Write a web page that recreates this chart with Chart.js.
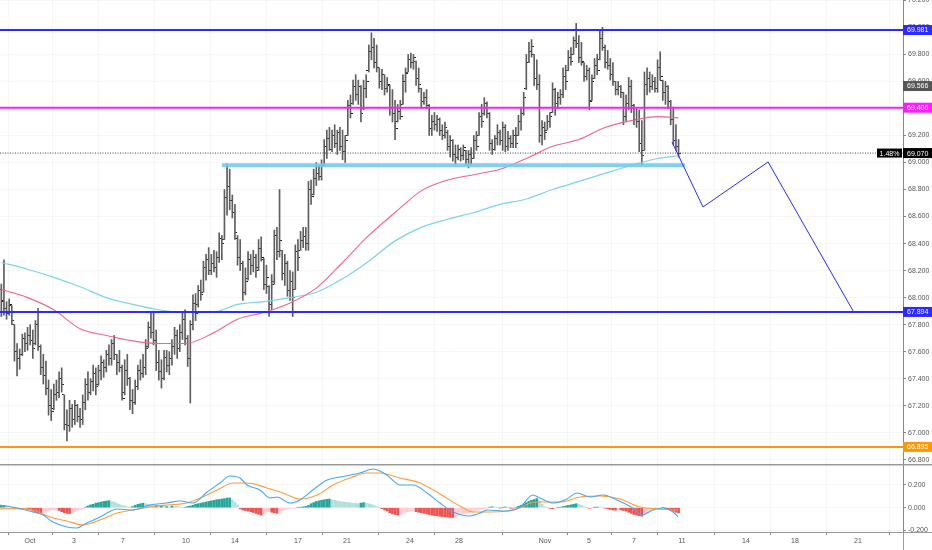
<!DOCTYPE html>
<html>
<head>
<meta charset="utf-8">
<title>Price chart with MACD</title>
<script src="https://cdn.jsdelivr.net/npm/chart.js@4.4.1/dist/chart.umd.min.js"></script>
<style>
html,body{margin:0;padding:0;background:#ffffff;overflow:hidden;}
#wrap{position:relative;width:932px;height:550px;}
</style>
</head>
<body>
<div id="wrap"><canvas id="chart" width="932" height="550"></canvas></div>
<script>
// ---------------- DATA ----------------
const barOpen = [
68.06,67.97,67.92,67.88,67.94,67.80,67.60,67.55,67.58,67.70,
67.66,67.72,67.68,67.66,67.80,67.64,67.48,67.42,67.33,67.20,
67.18,67.28,67.30,67.40,67.28,67.06,67.05,67.18,67.10,67.20,
67.12,67.10,67.22,67.36,67.30,67.38,67.44,67.36,67.46,67.52,
67.48,67.58,67.55,67.66,67.58,67.52,67.48,67.30,67.46,67.40,
67.24,67.22,67.34,67.46,67.44,67.48,67.64,67.78,67.74,67.68,
67.52,67.45,67.40,67.56,67.50,67.55,67.64,67.72,67.62,67.74,
67.84,67.70,67.55,67.80,67.96,67.95,68.05,68.04,68.22,68.28,
68.20,68.25,68.22,68.30,68.44,68.43,68.74,68.82,68.72,68.63,
68.44,68.30,68.25,68.04,68.14,68.28,68.24,68.30,68.22,68.36,
68.28,68.10,68.08,67.95,68.12,68.46,68.34,68.35,68.18,68.25,
68.05,68.12,68.06,68.34,68.35,68.42,68.45,68.40,68.80,68.76,
68.88,68.92,68.90,68.98,69.12,69.18,69.10,69.20,69.14,69.22,
69.12,69.08,69.20,69.42,69.44,69.56,69.50,69.56,69.40,69.55,
69.68,69.82,69.85,69.74,69.70,69.60,69.65,69.55,69.57,69.40,
69.36,69.30,69.38,69.43,69.60,69.67,69.76,69.74,69.75,69.62,
69.55,69.45,69.48,69.42,69.25,69.30,69.28,69.32,69.24,69.20,
69.22,69.12,69.16,69.06,69.04,69.10,69.05,69.09,69.02,69.06,
69.03,69.16,69.20,69.34,69.36,69.44,69.36,69.14,69.10,69.18,
69.22,69.16,69.26,69.12,69.18,69.14,69.20,69.20,69.30,69.36,
69.55,69.74,69.82,69.80,69.62,69.58,69.20,69.26,69.24,69.30,
69.37,69.54,69.44,69.48,69.50,69.64,69.68,69.78,69.80,69.90,
69.88,69.78,69.74,69.64,69.68,69.46,69.62,69.72,69.76,69.92,
69.85,69.74,69.72,69.65,69.60,69.54,69.56,69.52,69.34,69.44,
69.56,69.42,69.32,69.30,69.14,69.09,69.58,69.62,69.56,69.60,
69.55,69.70,69.61,69.52,69.56,69.45,69.32,69.16,69.12];
const barHigh = [
68.10,68.28,67.97,67.99,67.94,67.80,67.66,67.62,67.73,67.74,
67.78,67.80,67.76,67.83,67.92,67.65,67.58,67.53,67.39,67.32,
67.36,67.39,67.45,67.48,67.28,67.17,67.24,67.21,67.24,67.21,
67.18,67.28,67.40,67.45,67.40,67.50,67.48,67.50,67.57,67.54,
67.61,67.65,67.69,67.72,67.58,67.61,67.50,67.54,67.58,67.41,
67.32,67.39,67.50,67.54,67.58,67.69,67.82,67.89,67.90,67.76,
67.61,67.54,67.61,67.61,67.60,67.69,67.78,67.76,67.80,67.89,
67.91,67.72,67.83,68.02,68.03,68.09,68.13,68.27,68.32,68.37,
68.32,68.35,68.34,68.48,68.46,68.80,68.99,68.95,68.76,68.69,
68.46,68.43,68.27,68.22,68.34,68.32,68.35,68.32,68.43,68.45,
68.29,68.24,68.09,68.17,68.50,68.52,68.80,68.35,68.32,68.27,
68.20,68.19,68.39,68.43,68.49,68.52,68.52,68.86,68.87,68.95,
69.00,68.98,69.02,69.17,69.24,69.26,69.24,69.28,69.24,69.26,
69.24,69.20,69.46,69.50,69.61,69.65,69.61,69.57,69.61,69.65,
69.87,69.96,69.92,69.87,69.70,69.69,69.65,69.63,69.57,69.54,
69.46,69.43,69.46,69.65,69.70,69.80,69.81,69.80,69.75,69.70,
69.55,69.52,69.54,69.43,69.35,69.37,69.35,69.33,69.28,69.30,
69.24,69.20,69.17,69.13,69.13,69.11,69.13,69.09,69.09,69.11,
69.20,69.23,69.37,69.43,69.48,69.45,69.37,69.17,69.20,69.28,
69.24,69.30,69.28,69.23,69.20,69.24,69.26,69.35,69.40,69.52,
69.80,69.89,69.91,69.80,69.76,69.65,69.31,69.30,69.35,69.37,
69.59,69.55,69.52,69.54,69.70,69.72,69.83,69.85,69.93,70.03,
69.94,69.89,69.74,69.72,69.70,69.65,69.77,69.80,69.98,70.00,
69.87,69.83,69.77,69.74,69.60,69.60,69.57,69.52,69.50,69.63,
69.61,69.43,69.40,69.39,69.31,69.67,69.70,69.67,69.65,69.63,
69.76,69.82,69.61,69.60,69.57,69.46,69.41,69.28,69.17];
const barLow = [
67.86,67.87,67.84,67.87,67.80,67.53,67.42,67.47,67.57,67.60,
67.61,67.65,67.55,67.65,67.61,67.43,67.36,67.28,67.13,67.09,
67.17,67.24,67.26,67.30,67.02,66.94,67.01,67.04,67.06,67.08,
67.04,67.06,67.17,67.24,67.28,67.31,67.28,67.35,67.39,67.41,
67.45,67.50,67.50,67.54,67.43,67.45,67.24,67.28,67.35,67.17,
67.14,67.21,67.32,67.39,67.41,67.43,67.63,67.70,67.65,67.46,
67.39,67.33,67.39,67.45,67.43,67.50,67.58,67.55,67.60,67.69,
67.65,67.49,67.22,67.76,67.83,67.93,67.98,68.04,68.13,68.17,
68.17,68.19,68.15,68.26,68.28,68.43,68.61,68.65,68.59,68.43,
68.24,68.20,67.98,68.02,68.13,68.17,68.19,68.15,68.20,68.27,
68.06,68.03,67.86,67.91,68.10,68.28,68.30,68.13,68.09,68.01,
67.98,67.86,68.06,68.20,68.35,68.37,68.35,68.35,68.69,68.76,
68.83,68.87,68.87,68.98,69.03,69.09,69.08,69.11,69.06,69.09,
69.02,69.00,69.20,69.33,69.43,69.46,69.43,69.30,69.39,69.48,
69.67,69.76,69.70,69.67,69.55,69.54,69.50,69.52,69.35,69.30,
69.17,69.30,69.32,69.43,69.52,69.67,69.70,69.69,69.57,69.52,
69.40,69.43,69.40,69.20,69.20,69.24,69.23,69.20,69.17,69.18,
69.09,69.04,69.01,68.98,69.02,69.01,69.02,68.98,68.96,68.98,
69.03,69.09,69.20,69.26,69.35,69.33,69.09,69.06,69.09,69.13,
69.13,69.09,69.08,69.09,69.11,69.11,69.11,69.20,69.24,69.35,
69.54,69.74,69.78,69.57,69.54,69.15,69.13,69.17,69.24,69.26,
69.37,69.35,69.40,69.43,69.48,69.54,69.68,69.72,69.80,69.85,
69.74,69.72,69.60,69.61,69.39,69.46,69.62,69.65,69.76,69.83,
69.70,69.69,69.61,69.57,69.50,69.50,69.48,69.28,69.31,69.39,
69.37,69.28,69.26,69.08,68.98,69.09,69.50,69.52,69.54,69.52,
69.52,69.61,69.46,69.43,69.40,69.28,69.13,69.09,69.04];
const barClose = [
67.98,67.92,67.88,67.95,67.83,67.60,67.55,67.58,67.70,67.66,
67.72,67.68,67.62,67.80,67.64,67.48,67.42,67.33,67.20,67.16,
67.28,67.30,67.40,67.36,67.06,67.05,67.18,67.10,67.20,67.12,
67.10,67.22,67.36,67.30,67.38,67.44,67.34,67.46,67.52,67.48,
67.58,67.55,67.66,67.58,67.52,67.48,67.25,67.46,67.40,67.24,
67.22,67.34,67.46,67.44,67.48,67.62,67.78,67.74,67.68,67.52,
67.45,67.40,67.56,67.50,67.55,67.64,67.72,67.62,67.74,67.84,
67.70,67.55,67.80,67.96,67.88,68.05,68.02,68.22,68.28,68.20,
68.25,68.22,68.30,68.44,68.40,68.74,68.82,68.72,68.63,68.48,
68.30,68.25,68.04,68.12,68.28,68.24,68.30,68.20,68.36,68.30,
68.10,68.15,67.95,68.10,68.46,68.34,68.42,68.18,68.25,68.05,
68.12,68.00,68.34,68.30,68.42,68.45,68.40,68.80,68.75,68.88,
68.92,68.90,68.98,69.12,69.18,69.10,69.20,69.14,69.22,69.12,
69.08,69.16,69.42,69.36,69.56,69.50,69.56,69.36,69.55,69.60,
69.82,69.85,69.74,69.70,69.60,69.65,69.55,69.58,69.40,69.36,
69.25,69.38,69.34,69.60,69.66,69.76,69.74,69.78,69.62,69.58,
69.45,69.48,69.42,69.25,69.30,69.28,69.32,69.24,69.20,69.26,
69.12,69.16,69.06,69.04,69.10,69.05,69.11,69.02,69.06,69.03,
69.16,69.12,69.34,69.30,69.44,69.36,69.14,69.10,69.18,69.22,
69.16,69.26,69.12,69.18,69.14,69.20,69.14,69.30,69.36,69.48,
69.74,69.82,69.86,69.62,69.58,69.20,69.26,69.22,69.30,69.34,
69.54,69.44,69.48,69.50,69.64,69.60,69.78,69.75,69.90,69.88,
69.78,69.75,69.64,69.68,69.45,69.60,69.72,69.68,69.92,69.85,
69.74,69.72,69.65,69.60,69.54,69.56,69.52,69.34,69.44,69.56,
69.42,69.32,69.30,69.14,69.05,69.58,69.62,69.56,69.60,69.55,
69.70,69.64,69.52,69.56,69.45,69.32,69.16,69.12,69.07];

// moving averages, read at every 10th bar
const maBars = [0,10,20,30,40,50,60,70,80,90,100,110,120,130,140,150,160,170,180,190,200,210,220,230,240,250,258];
const maPink = [68.06,68.00,67.91,67.77,67.72,67.68,67.66,67.66,67.73,67.84,67.89,67.96,68.07,68.26,68.46,68.63,68.79,68.87,68.91,68.95,69.03,69.12,69.17,69.26,69.31,69.34,69.33];
const maCyan = [68.26,68.21,68.15,68.08,68.00,67.95,67.91,67.89,67.89,67.95,67.97,68.00,68.04,68.14,68.27,68.42,68.52,68.58,68.63,68.69,68.73,68.80,68.86,68.92,68.98,69.03,69.05];

// MACD pane
const macdX = [0,6.5,12.6,16.4,20.2,25.5,29.3,31.6,38.1,44.6,50.7,57.1,63.6,68.6,73.5,78.9,83.8,87.6,91.4,94.1,99.0,102.9,105.5,110.5,114.3,119.2,124.6,129.5,137.1,142.1,147.4,152.4,157.3,162.7,167.6,172.6,179.0,182.9,185.5,193.1,198.1,203.0,205.7,210.7,216.0,219.8,224.8,229.7,235.0,241.1,244.6,248.8,252.6,256.4,258.3];
const macdLine = [0.024,-0.003,-0.038,-0.064,-0.126,-0.170,-0.179,-0.152,-0.082,-0.011,-0.020,0.024,0.041,0.059,0.041,0.138,0.218,0.279,0.262,0.200,0.156,0.085,0.094,0.041,0.068,0.156,0.244,0.270,0.306,0.341,0.288,0.200,0.200,0.130,0.041,-0.038,-0.073,-0.047,-0.020,-0.029,0.006,0.112,0.085,0.041,0.077,0.130,0.094,0.112,0.068,-0.003,-0.064,-0.020,-0.003,-0.038,-0.082];
const signalX = [0,6.5,12.6,19.0,25.5,31.6,38.1,44.6,50.7,57.1,63.6,71.2,76.2,82.7,88.8,94.1,101.7,107.8,114.3,120.8,126.9,133.3,139.8,144.8,152.4,160.0,167.6,175.2,180.2,186.7,193.1,198.1,201.9,205.7,213.3,221.0,228.6,236.2,243.8,250.3,258.3];
const signalLine = [-0.010,-0.008,-0.020,-0.082,-0.117,-0.152,-0.108,-0.047,-0.020,0.006,0.024,0.041,0.085,0.156,0.218,0.218,0.174,0.130,0.077,0.112,0.200,0.262,0.306,0.306,0.262,0.218,0.121,0.015,-0.038,-0.038,-0.029,-0.003,0.041,0.050,0.050,0.094,0.103,0.077,0.006,-0.011,-0.020];
const macdHist = [
0.02,0.02,0.015,0.01,0.005,0,-0.005,-0.01,
-0.01,-0.01,-0.015,-0.02,-0.03,
-0.04,-0.045,-0.05,-0.045,-0.04,-0.03,-0.02,-0.02,
-0.018,-0.025,-0.035,-0.045,-0.05,-0.052,-0.045,-0.035,-0.025,-0.015,-0.008,
0.005,0.015,0.025,0.03,0.04,0.045,0.05,0.055,0.058,0.062,
0.055,0.05,0.04,0.03,0.02,0.015,0.008,
0.002,0.01,0.02,0.03,0.035,0.04,0.035,0.03,
0.025,0.02,0.02,0.015,0.015,0.01,0.01,0.008,0.015,0.012,0.01,0.005,0.002,0.005,0.01,
0.015,0.022,0.03,0.035,0.04,0.045,0.05,0.055,0.06,0.065,0.07,0.072,0.076,0.08,0.085,0.086,0.07,0.05,0.025,
-0.01,-0.02,-0.025,-0.03,-0.035,-0.042,-0.05,-0.058,-0.065,
-0.05,-0.04,-0.035,-0.04,-0.045,-0.05,-0.04,-0.03,-0.02,-0.012,-0.006,
-0.004,-0.002,0,0.004,0.008,
0.012,0.02,0.035,0.045,0.055,0.06,0.065,0.07,0.074,0.076,0.07,
0.065,0.06,0.055,0.05,0.048,0.045,0.043,0.04,0.038,0.035,0.04,0.045,0.04,
0.035,0.028,0.02,0.01,0.002,-0.008,
-0.02,-0.03,-0.045,-0.055,-0.06,-0.065,-0.06,
-0.05,-0.04,-0.035,-0.03,-0.028,
-0.035,-0.04,-0.045,-0.05,-0.055,-0.06,-0.065,-0.07,-0.072,-0.075,-0.078,-0.08,-0.082,-0.085,-0.086,
-0.08,-0.07,-0.06,-0.055,-0.05,-0.045,-0.04,-0.03,-0.025,-0.02,-0.015,-0.01,
-0.005,0.005,0.008,0.005,0.002,-0.003,0.004,0.006,0.004,-0.002,-0.004,0.005,0.012,0.022,0.032,
0.045,0.055,0.065,0.072,0.08,0.06,0.03,
0.01,0,-0.005,-0.01,-0.005,0,
0.005,0.01,0.015,0.02,0.025,0.03,0.035,0.03,
0.02,0.01,0,-0.005,-0.003,
0.003,0.006,0.004,0,-0.005,
-0.01,-0.015,-0.02,-0.022,-0.016,-0.02,-0.025,-0.03,
-0.04,-0.05,-0.06,-0.065,-0.07,-0.075,
-0.06,-0.045,-0.03,-0.02,-0.01,-0.005,
-0.002,0,-0.003,
-0.012,-0.022,-0.032,-0.04,-0.046];

// horizontal levels and drawings
const levelValues = [69.981, 69.406, 67.894, 66.895];
const levelColors = ['#2b2bff', '#ff1cff', '#2b2bff', '#ff9800'];
const supportValue = 68.98;
const supportFrom = 84.6, supportTo = 260.9;
const lastPrice = 69.07;
const projX = [256.0, 267.8, 292.6, 325.0];
const projY = [69.152, 68.671, 69.004, 67.901];

// axes
const priceTicks = [66.8,67.0,67.2,67.4,67.6,67.8,68.0,68.2,68.4,68.6,68.8,69.0,69.2,69.4,69.6,69.8,70.0,70.2];
const macdTicks = [-0.2, 0, 0.2];
const timeTickPos = [11.43,28.19,46.86,70.86,89.52,113.52,132.19,156.19,174.86,207.62,224.38,241.52,259.81,284.19,302.86,326.86];
const timeTickLabels = ['Oct','3','7','10','14','17','21','24','28','Nov','5','7','11','14','18','21'];
const tagValues = [69.981, 69.566, 69.406, 69.070, 67.894, 66.895];
const tagTexts = ['69.981','69.566','69.406','69.070','67.894','66.895'];
const tagColors = ['#2b2bff','#555555','#ff1cff','#000000','#2b2bff','#ff9800'];
const changeText = '1.48%';

// ---------------- RENDER ----------------
const FONT = "'Liberation Sans', Arial, sans-serif";

function tickCanvas(left) {
  const c = document.createElement('canvas');
  c.width = 5; c.height = 1;
  const g = c.getContext('2d');
  g.fillStyle = '#1e1e1e';
  if (left) g.fillRect(0, 0, 2, 1); else g.fillRect(3, 0, 2, 1);
  return c;
}
const openTick = tickCanvas(true);
const closeTick = tickCanvas(false);

const xy = (xs, ys) => xs.map((x, i) => ({x: x, y: ys[i]}));

const datasets = [];
datasets.push({
  type: 'bar', label: 'range', yAxisID: 'y', order: 6, grouped: false,
  data: barHigh.map((h, i) => ({x: i + 0.5, y: [barLow[i], h]})),
  backgroundColor: '#5e5e5e', borderWidth: 0, barThickness: 1
});
datasets.push({
  type: 'line', label: 'open', yAxisID: 'y', order: 6, showLine: false,
  data: barOpen.map((o, i) => ({x: i + 0.5, y: o})),
  pointStyle: openTick, pointRadius: 1
});
datasets.push({
  type: 'line', label: 'close', yAxisID: 'y', order: 6, showLine: false,
  data: barClose.map((c, i) => ({x: i + 0.5, y: c})),
  pointStyle: closeTick, pointRadius: 1
});
datasets.push({
  type: 'line', label: 'MA pink', yAxisID: 'y', order: 5,
  data: xy(maBars.map(b => b + 0.5), maPink),
  borderColor: '#f0648f', borderWidth: 1.1, pointRadius: 0, cubicInterpolationMode: 'monotone'
});
datasets.push({
  type: 'line', label: 'MA cyan', yAxisID: 'y', order: 5,
  data: xy(maBars.map(b => b + 0.5), maCyan),
  borderColor: '#79d4ea', borderWidth: 1.2, pointRadius: 0, cubicInterpolationMode: 'monotone'
});
levelValues.forEach((v, k) => {
  datasets.push({
    type: 'line', label: 'level' + k, yAxisID: 'y', order: 2,
    data: [{x: 0, y: v}, {x: 344, y: v}],
    borderColor: levelColors[k], borderWidth: 2, pointRadius: 0
  });
});
datasets.push({
  type: 'line', label: 'support', yAxisID: 'y', order: 3,
  data: [{x: supportFrom, y: supportValue}, {x: supportTo, y: supportValue}],
  borderColor: 'rgba(110,205,238,0.9)', borderWidth: 4, pointRadius: 0, borderCapStyle: 'butt'
});
datasets.push({
  type: 'line', label: 'last', yAxisID: 'y', order: 4,
  data: [{x: 0, y: lastPrice}, {x: 344, y: lastPrice}],
  borderColor: '#444', borderWidth: 1, borderDash: [1, 1.5], pointRadius: 0
});
datasets.push({
  type: 'line', label: 'projection', yAxisID: 'y', order: 1,
  data: xy(projX, projY),
  borderColor: '#2b2bff', borderWidth: 1, pointRadius: 0, tension: 0
});
datasets.push({
  type: 'bar', label: 'hist', yAxisID: 'y2', order: 5, grouped: false,
  data: macdHist.map((v, i) => ({x: i + 0.5, y: v})),
  barThickness: 2, borderWidth: 0,
  backgroundColor: (ctx) => {
    const i = ctx.dataIndex, v = macdHist[i], p = i > 0 ? macdHist[i - 1] : v;
    if (v >= 0) return v >= p ? '#26a69a' : '#b2dfdb';
    return v < p ? '#ef5350' : '#ffcdd2';
  }
});
datasets.push({
  type: 'line', label: 'MACD', yAxisID: 'y2', order: 3,
  data: xy(macdX, macdLine),
  borderColor: '#44a9f4', borderWidth: 1.1, pointRadius: 0, cubicInterpolationMode: 'monotone'
});
datasets.push({
  type: 'line', label: 'Signal', yAxisID: 'y2', order: 4,
  data: xy(signalX, signalLine),
  borderColor: '#ff9b3d', borderWidth: 1.1, pointRadius: 0, cubicInterpolationMode: 'monotone'
});

const overlay = {
  id: 'overlay',
  afterDraw(chart) {
    const ctx = chart.ctx, ys = chart.scales.y, ca = chart.chartArea;
    ctx.save();
    // hide the part of the lowest MACD label that falls below the pane
    ctx.fillStyle = '#ffffff';
    ctx.fillRect(ca.right + 1, ca.bottom + 1, 932 - ca.right, 550 - ca.bottom);
    ctx.fillStyle = '#9a9a9a';
    ctx.fillRect(0, Math.round(ys.bottom) - 1, 932, 1.5);
    ctx.fillRect(0, Math.round(ca.bottom), 932, 1);
    ctx.fillRect(Math.round(ca.right), ca.bottom, 1, 550 - ca.bottom);
    ctx.font = '7px ' + FONT;
    ctx.textBaseline = 'middle';
    tagValues.forEach((v, k) => {
      const py = ys.getPixelForValue(v);
      ctx.fillStyle = tagColors[k];
      ctx.fillRect(ca.right, py - 5, 932 - ca.right, 10);
      ctx.fillStyle = '#ffffff';
      ctx.textAlign = 'left';
      ctx.fillText(tagTexts[k], ca.right + 4, py + 0.5);
    });
    const py = ys.getPixelForValue(lastPrice);
    ctx.fillStyle = '#000000';
    ctx.fillRect(ca.right - 26, py - 4.5, 25, 9);
    ctx.fillStyle = '#ffffff';
    ctx.textAlign = 'center';
    ctx.fillText(changeText, ca.right - 13.5, py + 0.5);
    ctx.restore();
  }
};

function noPadV(s) { s.width = 29; s.paddingTop = 0; s.paddingBottom = 0; }

new Chart(document.getElementById('chart'), {
  type: 'line',
  data: {datasets: datasets},
  plugins: [overlay],
  options: {
    responsive: false,
    animation: false,
    devicePixelRatio: 1,
    events: [],
    layout: {padding: 0, autoPadding: false},
    plugins: {legend: {display: false}, tooltip: {enabled: false}},
    scales: {
      x: {
        type: 'linear', min: 0, max: 344, offset: false,
        afterBuildTicks: (s) => { s.ticks = timeTickPos.map(v => ({value: v})); },
        afterFit: (s) => { s.height = 18; s.paddingLeft = 0; s.paddingRight = 0; },
        ticks: {autoSkip: false, maxRotation: 0, padding: 2, color: '#555', font: {size: 7, family: FONT},
          callback: (v, i) => timeTickLabels[i]},
        grid: {color: 'rgba(0,0,0,0.035)', tickColor: '#888', tickLength: 3},
        border: {display: true, color: '#999'}
      },
      y: {
        type: 'linear', position: 'right', stack: 'v', stackWeight: 465,
        min: 66.761, max: 70.203,
        afterBuildTicks: (s) => { s.ticks = priceTicks.map(v => ({value: v})); },
        afterFit: noPadV,
        ticks: {padding: 2, color: '#555', font: {size: 7, family: FONT}, callback: (v) => Number(v).toFixed(3)},
        grid: {color: 'rgba(0,0,0,0.035)', tickColor: '#888', tickLength: 3},
        border: {display: true, color: '#888'}
      },
      y2: {
        type: 'linear', position: 'right', stack: 'v', stackWeight: 67,
        min: -0.214, max: 0.376,
        afterBuildTicks: (s) => { s.ticks = macdTicks.map(v => ({value: v})); },
        afterFit: noPadV,
        ticks: {padding: 2, color: '#555', font: {size: 7, family: FONT}, callback: (v) => Number(v).toFixed(3)},
        grid: {color: 'rgba(0,0,0,0.035)', tickColor: '#888', tickLength: 3},
        border: {display: true, color: '#888'}
      }
    }
  }
});
</script>
</body>
</html>
